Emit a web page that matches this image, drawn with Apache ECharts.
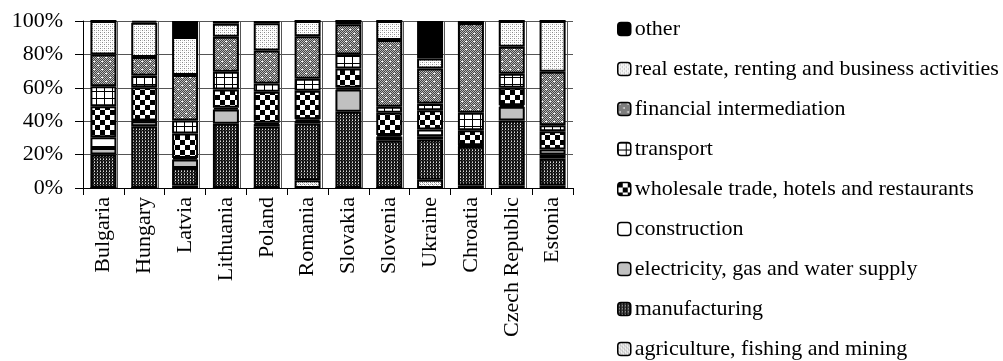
<!DOCTYPE html>
<html>
<head>
<meta charset="utf-8">
<script src="https://cdn.jsdelivr.net/npm/echarts@6/dist/echarts.min.js"></script>
<style>
html,body{margin:0;padding:0;background:#fff;}
#chart{width:1003px;height:361px;}
</style>
</head>
<body>
<div id="chart"></div>
<script>
// ---------- DATA ----------
const countries = ["Bulgaria","Hungary","Latvia","Lithuania","Poland","Romania","Slovakia","Slovenia","Ukraine","Chroatia","Czech Republic","Estonia"];
const sectorNames = ["agriculture, fishing and mining","manufacturing","electricity, gas and water supply","construction","wholesale trade, hotels and restaurants","transport","financial intermediation","real estate, renting and business activities","other"];
const agriculture  = [0,   0,   1.5, 0,   0,   4.6, 0,   0,   5,   1.5, 1.5, 1.5];
const manufacturing= [20,  37,  10.5,38.4,36.8,34,  45.6,28.6,24,  23.5,38.9,16.1];
const electricity  = [4,   3,   5,   8.6, 1.5, 1.5, 13.4,2.2, 2,   0.3, 8.2, 2.4];
const construction = [6.4, 0.4, 1,   1,   0.7, 1,   1,   1,   4,   0.3, 1,   3];
const wholesale    = [18.6,20,  14.6,11,  18.6,17.1,11.6,13.2,11.6,9,   10.4,11];
const transport    = [12,  7,   7.8, 10.6,5,   7.2, 8.4, 3.6, 4,   10.4,8.4, 3.6];
const financial    = [19,  11,  27.2,21,  19.8,25.4,18,  40,  21,  53.6,16.2,32];
const realEstate   = [20,  20.6,22.8,7.8, 16.2,9.2, 2,   11.4,6,   0,   15.4,30.4];
const other        = [0,   1,   9.6, 1.6, 1.4, 0,   0,   0,   22.4,1.4, 0,   0];
const yTicks = [0,20,40,60,80,100];

const seriesValues = [agriculture,manufacturing,electricity,construction,wholesale,transport,financial,realEstate,other];

// ---------- PATTERNS (style) ----------
function pat(w,h,draw){
  const c=document.createElement('canvas'); c.width=w; c.height=h;
  const g=c.getContext('2d'); draw(g,w,h); return {image:c, repeat:'repeat'};
}
function px(g,x,y,col){ g.fillStyle=col; g.fillRect(x,y,1,1); }
const patterns = [
  // agriculture: light dotted grid
  pat(4,4,(g)=>{g.fillStyle='#fff';g.fillRect(0,0,4,4);px(g,0,0,'#777');px(g,2,0,'#aaa');px(g,0,2,'#aaa');px(g,2,2,'#777');px(g,1,1,'#ccc');px(g,3,3,'#ccc');}),
  // manufacturing: dark with white dots
  pat(3,3,(g)=>{g.fillStyle='#111';g.fillRect(0,0,3,3);px(g,1,0,'#ddd');px(g,1,2,'#888');px(g,0,1,'#444');}),
  // electricity: solid light grey
  '#c0c0c0',
  // construction: white
  '#ffffff',
  // wholesale: checkerboard
  pat(10,10,(g)=>{g.fillStyle='#fff';g.fillRect(0,0,10,10);g.fillStyle='#000';g.fillRect(0,0,5,5);g.fillRect(5,5,5,5);}),
  // transport: grid lines
  pat(8,7,(g)=>{g.fillStyle='#fff';g.fillRect(0,0,8,7);g.fillStyle='#000';g.fillRect(0,0,1,7);g.fillRect(0,0,8,1);}),
  // financial: grey dither with white dots
  pat(8,8,(g)=>{for(let y=0;y<8;y++)for(let x=0;x<8;x++){px(g,x,y,((x+y)%2)?'#444':'#b8b8b8');}
     g.fillStyle='#fff';g.fillRect(1,1,2,1);g.fillRect(5,5,2,1);}),
  // real estate: light dotted
  pat(4,4,(g)=>{g.fillStyle='#fff';g.fillRect(0,0,4,4);px(g,0,0,'#888');px(g,2,2,'#888');px(g,2,0,'#ccc');px(g,0,2,'#ccc');}),
  // other: black
  '#000000'
];

const FONT = '"Liberation Serif","Times New Roman",serif';

const series = seriesValues.map((vals,i)=>({
  name: sectorNames[i],
  type: 'bar',
  stack: 'total',
  barWidth: 26,
  xAxisIndex: 0, yAxisIndex: 0,
  data: vals,
  itemStyle: { color: patterns[i], borderColor: '#000', borderWidth: 2 },
  emphasis: { disabled: true }
}));

const chart = echarts.init(document.getElementById('chart'), null, {renderer:'canvas'});
chart.setOption({
  animation: false,
  backgroundColor: '#fff',
  grid: [
    { left: 83, right: 430, top: 21, bottom: 173, containLabel: false },
    { left: 117.6, width: 449.2, top: 21, bottom: 173, containLabel: false }
  ],
  legend: {
    orient: 'vertical',
    left: 612, top: 13, height: 500,
    itemWidth: 13, itemHeight: 13,
    itemGap: 18,
    data: sectorNames.slice().reverse(),
    itemStyle: { borderColor: '#000', borderWidth: 1.5 },
    textStyle: { fontFamily: FONT, fontSize: 22, color: '#000', lineHeight: 22, padding: [0,0,0,-1] },
    selectedMode: false
  },
  xAxis: [
    {
      type: 'category', gridIndex: 0, data: countries,
      axisLine: { lineStyle: { color: '#000', width: 1 } },
      axisTick: { show: true, length: 7, lineStyle: { color: '#000' } },
      axisLabel: { rotate: 90, margin: 9, fontFamily: FONT, fontSize: 22, color: '#000' },
      splitLine: { show: false }
    },
    {
      type: 'value', gridIndex: 1, min: 0, max: 11, interval: 1,
      axisLine: { show: false }, axisTick: { show: false }, axisLabel: { show: false },
      splitLine: { show: true, lineStyle: { color: '#555', width: 1 } }
    }
  ],
  yAxis: [
    {
      type: 'value', gridIndex: 0, min: yTicks[0], max: yTicks[yTicks.length-1], interval: 20,
      axisLine: { show: true, lineStyle: { color: '#000', width: 1 } },
      axisTick: { show: true, length: 8, lineStyle: { color: '#000' } },
      axisLabel: { formatter: '{value}%', margin: 20, fontFamily: FONT, fontSize: 22, color: '#000' },
      splitLine: { show: true, lineStyle: { color: '#555', width: 1 } }
    },
    {
      type: 'value', gridIndex: 1, min: 0, max: 100, show: false,
      splitLine: { show: false }
    }
  ],
  series: series
});
</script>
</body>
</html>
